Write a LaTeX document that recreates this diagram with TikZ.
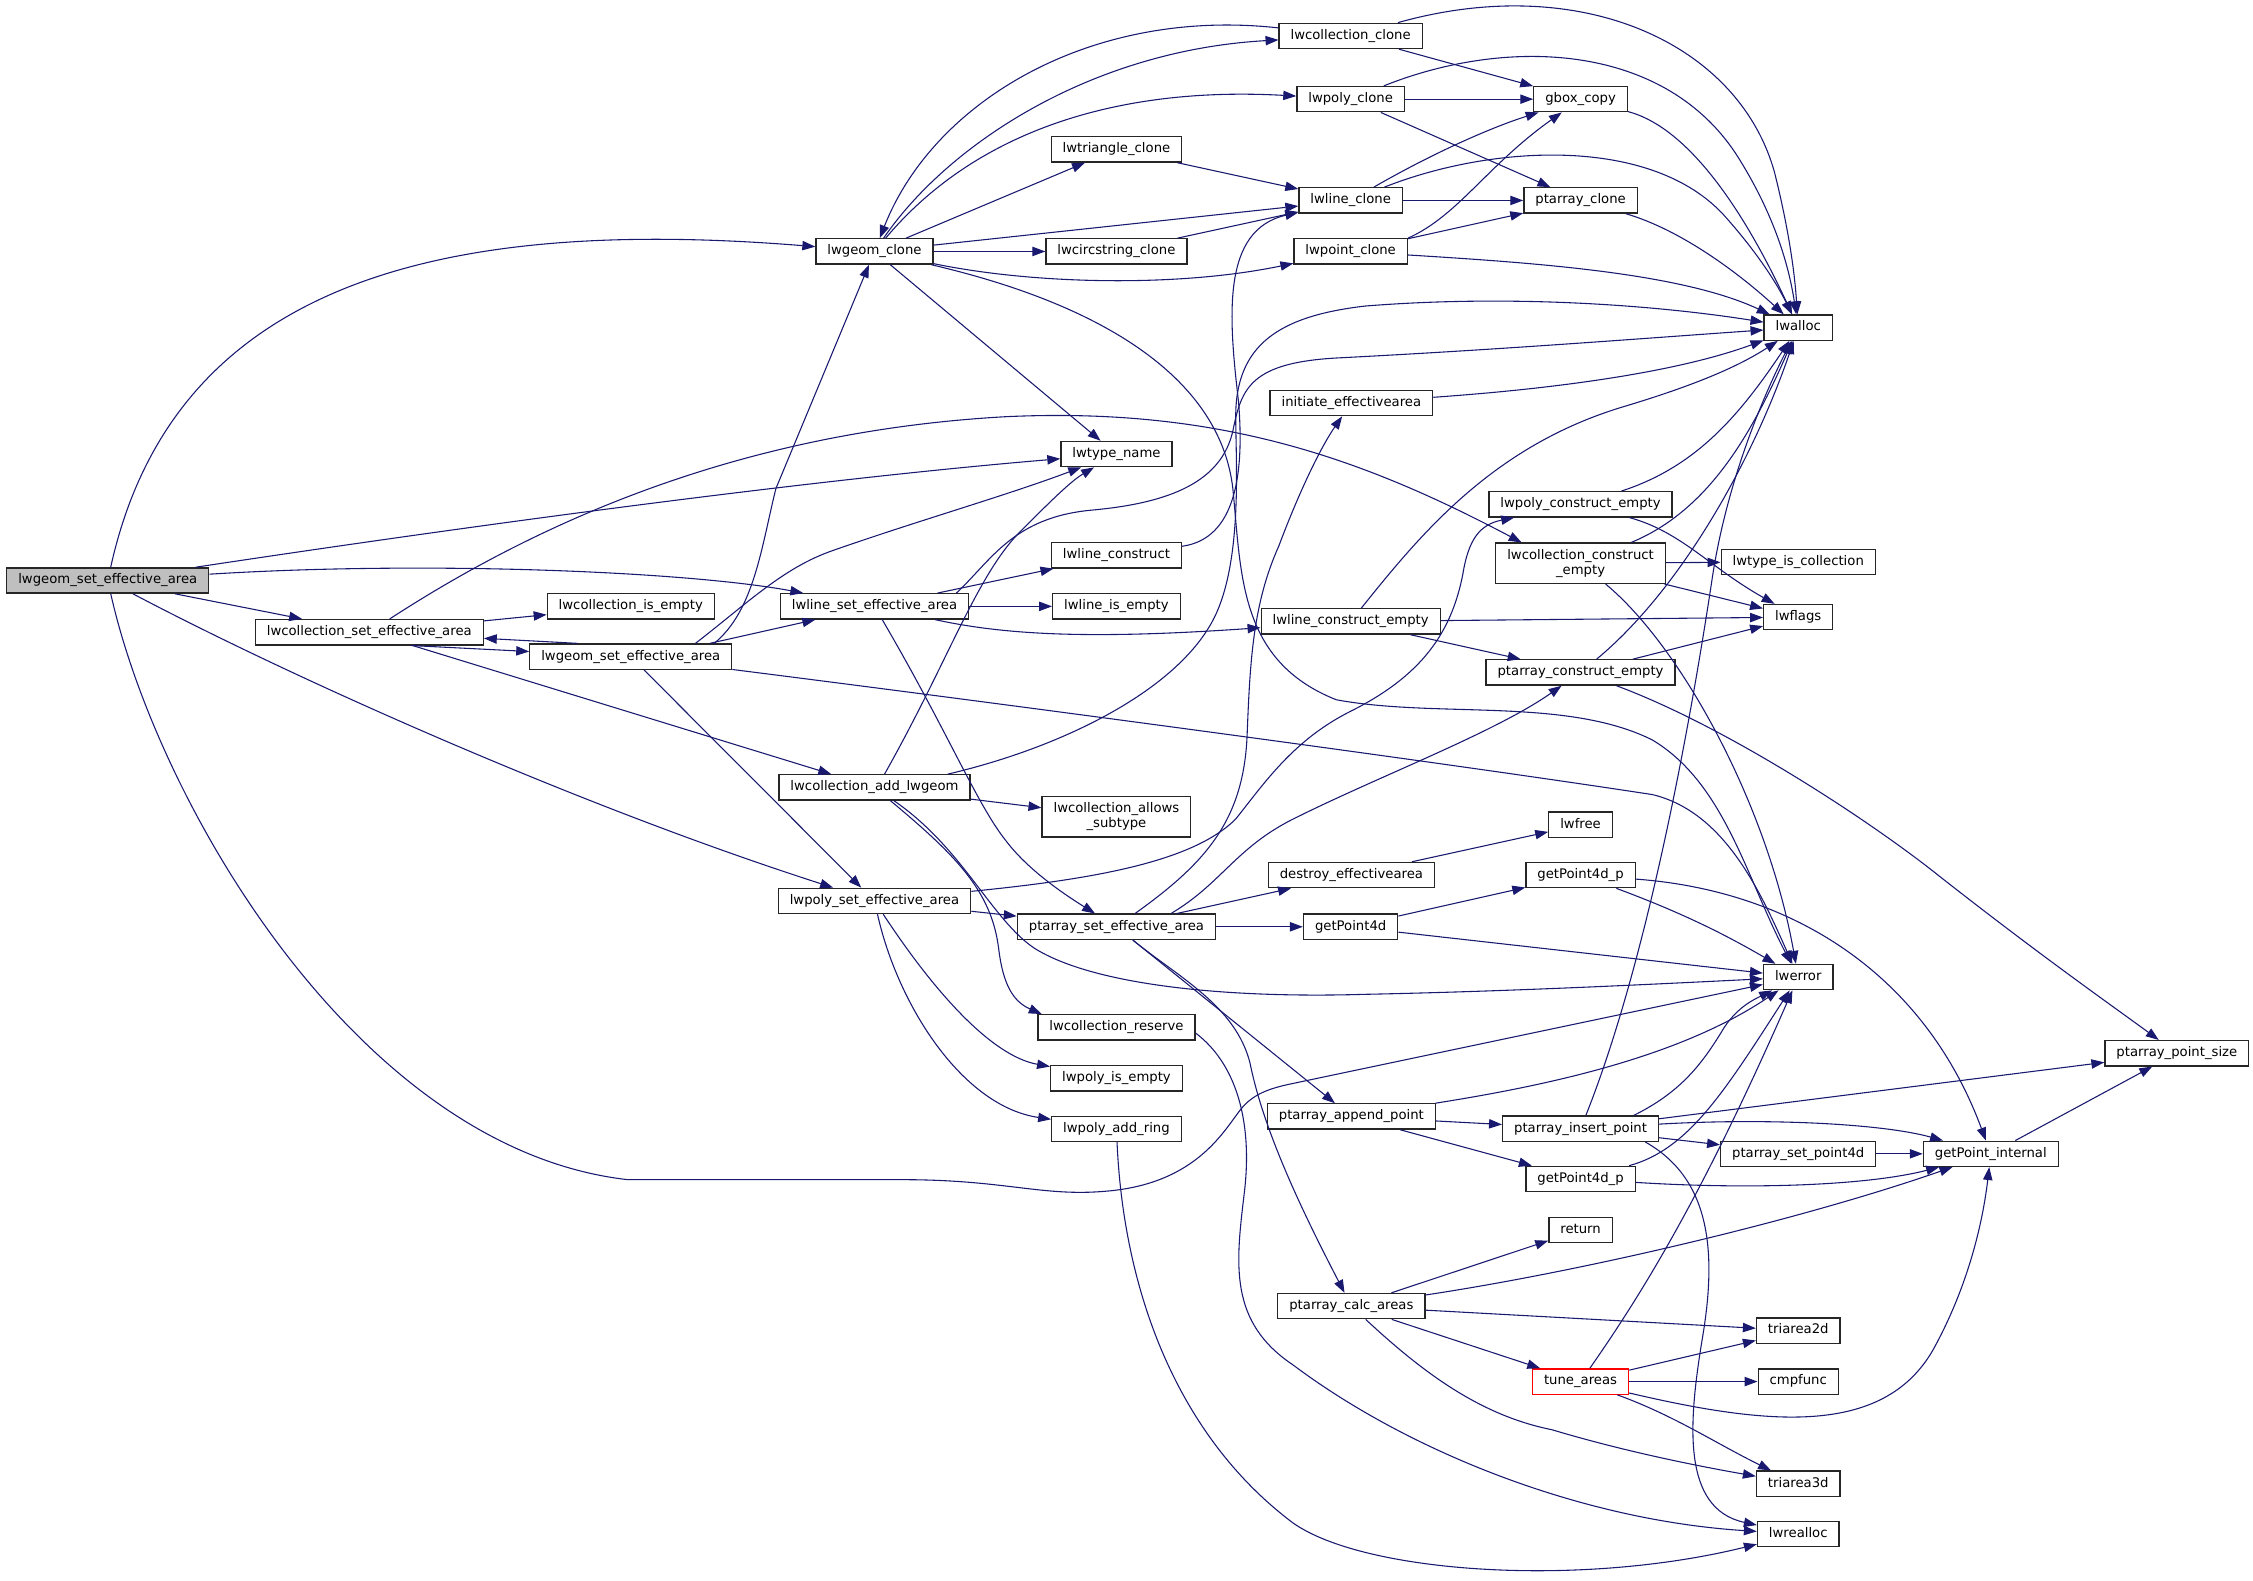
\documentclass[tikz,border=0pt]{standalone}
\usepackage{fontspec}
\setmainfont{DejaVu Sans}
\usetikzlibrary{arrows.meta}
\definecolor{callblue}{HTML}{191970}
\definecolor{rootgray}{HTML}{BFBFBF}
\begin{document}
\begin{tikzpicture}[x=1pt,y=-1pt,
		fnbase/.style={draw=black!85,line width=0.9pt,fill=white,inner xsep=8pt,inner ysep=3pt,font=\fontsize{9.2}{10.5}\selectfont},
		fn/.style={fnbase,text height=6.9pt,text depth=2.2pt,minimum height=17.6pt},
		fntwo/.style={fnbase,align=center,minimum height=28pt},
		rootfn/.style={fill=rootgray},
		call/.style={draw=callblue,line width=0.75pt,-{Triangle[length=9pt,width=6.5pt]}}]
			\useasboundingbox (0,0) rectangle (1568,1100);

			\node[fn,rootfn] (geomsea) at (75,404) {lwgeom\_set\_effective\_area};
			\node[fn] (collsea) at (257,440) {lwcollection\_set\_effective\_area};
			\node[fn] (collisempty) at (439,422) {lwcollection\_is\_empty};
			\node[fn] (geomseab) at (439,457) {lwgeom\_set\_effective\_area};
			\node[fn] (lwgeomclone) at (608.6,175) {lwgeom\_clone};
			\node[fn] (linesea) at (608.6,422) {lwline\_set\_effective\_area};
			\node[fn] (colladd) at (608.6,548) {lwcollection\_add\_lwgeom};
			\node[fn] (polysea) at (608.6,627) {lwpoly\_set\_effective\_area};
			\node[fn] (triclone) at (777,104) {lwtriangle\_clone};
			\node[fn] (circclone) at (777,175) {lwcircstring\_clone};
			\node[fn] (typename) at (777,316) {lwtype\_name};
			\node[fn] (lineconstruct) at (777,386.5) {lwline\_construct};
			\node[fn] (lineisempty) at (777,422) {lwline\_is\_empty};
			\node[fntwo] (collallows) at (777,568.5) {lwcollection\_allows\\\_subtype};
			\node[fn] (ptasea) at (777,645) {ptarray\_set\_effective\_area};
			\node[fn] (collreserve) at (777,715) {lwcollection\_reserve};
			\node[fn] (polyisempty) at (777,750.5) {lwpoly\_is\_empty};
			\node[fn] (polyaddring) at (777,785.6) {lwpoly\_add\_ring};
			\node[fn] (collclone) at (940,25) {lwcollection\_clone};
			\node[fn] (polyclone) at (940,69) {lwpoly\_clone};
			\node[fn] (lineclone) at (940,139.5) {lwline\_clone};
			\node[fn] (pointclone) at (940,175) {lwpoint\_clone};
			\node[fn] (initea) at (940.5,280.5) {initiate\_effectivearea};
			\node[fn] (linece) at (940,432.5) {lwline\_construct\_empty};
			\node[fn] (destroyea) at (940.5,609) {destroy\_effectivearea};
			\node[fn] (getp4d) at (940,645) {getPoint4d};
			\node[fn] (ptaappend) at (940.5,777) {ptarray\_append\_point};
			\node[fn] (ptacalc) at (940.5,909) {ptarray\_calc\_areas};
			\node[fn] (gboxcopy) at (1100,69) {gbox\_copy};
			\node[fn] (ptaclone) at (1100,139.5) {ptarray\_clone};
			\node[fn] (polyce) at (1100,351) {lwpoly\_construct\_empty};
			\node[fntwo] (collce) at (1100,392) {lwcollection\_construct\\\_empty};
			\node[fn] (ptace) at (1100,468) {ptarray\_construct\_empty};
			\node[fn] (lwfree) at (1100,574) {lwfree};
			\node[fn] (gp4dpa) at (1100,609) {getPoint4d\_p};
			\node[fn] (ptainsert) at (1100,785.5) {ptarray\_insert\_point};
			\node[fn] (gp4dpb) at (1100,820.5) {getPoint4d\_p};
			\node[fn] (retn) at (1100,856) {return};
			\node[fn,draw=red] (tuneareas) at (1100,961.5) {tune\_areas};
			\node[fn] (lwalloc) at (1251.5,228) {lwalloc};
			\node[fn] (typeiscoll) at (1251.5,391) {lwtype\_is\_collection};
			\node[fn] (lwflags) at (1251.5,429.5) {lwflags};
			\node[fn] (lwerror) at (1251.5,680) {lwerror};
			\node[fn] (ptasetp4d) at (1251.5,803) {ptarray\_set\_point4d};
			\node[fn] (triarea2d) at (1251.5,926) {triarea2d};
			\node[fn] (cmpfunc) at (1251.5,961.5) {cmpfunc};
			\node[fn] (triarea3d) at (1251.5,1032.6) {triarea3d};
			\node[fn] (lwrealloc) at (1251.5,1067.6) {lwrealloc};
			\node[fn] (getpint) at (1385.5,803) {getPoint\_internal};
			\node[fn] (ptapointsize) at (1515,733) {ptarray\_point\_size};

			% lwgeom_set_effective_area
			\path[call] (geomsea) .. controls (120,200) and (300,150) .. (lwgeomclone);
			\path[call] (geomsea) .. controls (300,370) and (550,335) .. (typename);
			\path[call] (geomsea) .. controls (300,390) and (480,398) .. (linesea);
			\path[call] (geomsea) -- (collsea);
			\path[call] (geomsea) .. controls (200,470) and (400,560) .. (polysea);
			\path[call] (geomsea) .. controls (110,560) and (250,800) .. (437,821) -- (628,821) .. controls (700,821) and (725,833) .. (770,829) .. controls (830,824) and (850,790) .. (862,774) .. controls (870,763) and (880,758) .. (900,754) -- (lwerror);

			% lwgeom_clone
			\path[call] (lwgeomclone) .. controls (660,100) and (760,35) .. (collclone);
			\path[call] (collclone) .. controls (760,5) and (650,70) .. (lwgeomclone);
			\path[call] (lwgeomclone) .. controls (680,90) and (780,60) .. (polyclone);
			\path[call] (lwgeomclone) -- (triclone);
			\path[call] (lwgeomclone) -- (lineclone);
			\path[call] (lwgeomclone) -- (circclone);
			\path[call] (lwgeomclone) .. controls (720,198) and (820,200) .. (pointclone);
			\path[call] (lwgeomclone) -- (typename);
			\path[call] (lwgeomclone) .. controls (780,215) and (850,270) .. (858,340) .. controls (864,400) and (862,460) .. (930,487) .. controls (1000,500) and (1090,485) .. (1150,515) .. controls (1200,545) and (1215,610) .. (lwerror);

			% the clones
			\path[call] (collclone) -- (gboxcopy);
			\path[call] (collclone) .. controls (1100,-20) and (1210,30) .. (1235,120) .. controls (1245,160) and (1249,190) .. (lwalloc);
			\path[call] (polyclone) -- (gboxcopy);
			\path[call] (polyclone) -- (ptaclone);
			\path[call] (polyclone) .. controls (1050,25) and (1160,30) .. (1210,110) .. controls (1235,150) and (1245,185) .. (lwalloc);
			\path[call] (triclone) -- (lineclone);
			\path[call] (circclone) -- (lineclone);
			\path[call] (lineclone) .. controls (1000,105) and (1040,88) .. (gboxcopy);
			\path[call] (lineclone) -- (ptaclone);
			\path[call] (lineclone) .. controls (1040,100) and (1150,95) .. (1200,150) .. controls (1225,178) and (1238,200) .. (lwalloc);
			\path[call] (pointclone.north east) .. controls (1015,150) and (1035,115) .. (gboxcopy);
			\path[call] (pointclone) -- (ptaclone);
			\path[call] (pointclone) .. controls (1070,183) and (1170,190) .. (lwalloc);
			\path[call] (gboxcopy) .. controls (1180,90) and (1220,160) .. (lwalloc);
			\path[call] (ptaclone) .. controls (1170,160) and (1210,190) .. (lwalloc);
			\path[call] (initea) .. controls (1090,270) and (1170,258) .. (lwalloc);

			% constructors
			\path[call] (polyce) .. controls (1180,325) and (1210,290) .. (lwalloc);
			\path[call] (polyce) .. controls (1170,370) and (1190,395) .. (lwflags);
			\path[call] (collce) -- (typeiscoll);
			\path[call] (collce) -- (lwflags);
			\path[call] (collce) .. controls (1190,355) and (1220,300) .. (lwalloc);
			\path[call] (collce) .. controls (1170,450) and (1230,560) .. (lwerror);
			\path[call] (lineconstruct) .. controls (860,375) and (866,330) .. (862,280) .. controls (855,220) and (850,160) .. (lineclone);
			\path[call] (linece) .. controls (990,370) and (1040,310) .. (1130,283) .. controls (1180,268) and (1210,255) .. (lwalloc);
			\path[call] (linece) -- (lwflags);
			\path[call] (linece) -- (ptace);
			\path[call] (ptace) .. controls (1170,410) and (1220,320) .. (lwalloc);
			\path[call] (ptace) -- (lwflags);
			\path[call] (ptace) .. controls (1200,505) and (1300,570) .. (1350,610) .. controls (1420,665) and (1470,700) .. (ptapointsize);

			% lwline_set_effective_area
			\path[call] (linesea) -- (lineconstruct);
			\path[call] (linesea) -- (lineisempty);
			\path[call] (linesea) .. controls (700,442) and (760,445) .. (linece);
			\path[call] (linesea) .. controls (660,510) and (680,560) .. (700,585) .. controls (715,605) and (740,622) .. (ptasea);
			\path[call] ([xshift=57pt]linesea.north) .. controls (690,390) and (705,360) .. (760,355) .. controls (815,350) and (850,335) .. (858,300) .. controls (864,270) and (870,252) .. (933,249) .. controls (1050,243) and (1150,235) .. (lwalloc);

			% lwcollection_set_effective_area
			\path[call] (collsea) -- (collisempty);
			\path[call] ([xshift=29pt]collsea.south) -- (geomseab);
			\path[call] (collsea) -- (colladd);
			\path[call] (collsea) .. controls (380,360) and (520,300) .. (700,290) .. controls (850,283) and (950,320) .. ([xshift=-41pt]collce.north);

			% lwgeom_set_effective_area (second)
			\path[call] ([xshift=-37pt]geomseab.north) -- (collsea);
			\path[call] ([xshift=55pt]geomseab.north) -- (linesea);
			\path[call] ([xshift=58pt]geomseab.north) .. controls (525,425) and (530,380) .. (540,340) -- (lwgeomclone);
			\path[call] ([xshift=45pt]geomseab.north) .. controls (520,420) and (545,395) .. (580,383) .. controls (640,362) and (700,345) .. (typename);
			\path[call] (geomseab) -- (polysea);
			\path[call] (geomseab) .. controls (700,490) and (1000,530) .. (1150,553) .. controls (1200,565) and (1225,620) .. (lwerror);

			% lwcollection_add_lwgeom
			\path[call] (colladd) -- (collallows);
			\path[call] ([xshift=7pt]colladd.north) .. controls (660,460) and (680,400) .. (710,370) .. controls (730,350) and (745,335) .. (typename);
			\path[call] ([xshift=51pt]colladd.north) .. controls (740,520) and (820,480) .. (845,430) .. controls (865,390) and (860,320) .. (860,290) .. controls (860,240) and (890,220) .. (950,213) .. controls (1050,205) and (1150,212) .. (lwalloc);
			\path[call] (colladd) .. controls (670,590) and (690,640) .. (720,660) .. controls (760,685) and (850,695) .. (950,692) .. controls (1050,690) and (1150,685) .. (lwerror);
			\path[call] (colladd) .. controls (665,595) and (690,620) .. (695,660) .. controls (698,685) and (705,697) .. ([xshift=-52pt]collreserve.north);

			% lwpoly_set_effective_area
			\path[call] (polysea) -- (ptasea);
			\path[call] (polysea) .. controls (760,612) and (830,600) .. (860,570) .. controls (880,545) and (900,515) .. (940,495) .. controls (990,470) and (1010,440) .. (1018,400) .. controls (1022,375) and (1030,365) .. (polyce);
			\path[call] (polysea) .. controls (650,690) and (690,735) .. (polyisempty);
			\path[call] (polysea) .. controls (625,700) and (670,770) .. (polyaddring);

			% ptarray_set_effective_area
			\path[call] (ptasea) .. controls (840,600) and (866,570) .. (868,510) .. controls (870,460) and (872,420) .. (890,380) .. controls (905,340) and (920,310) .. (initea);
			\path[call] ([xshift=38pt]ptasea.north) .. controls (850,615) and (860,590) .. (900,570) .. controls (960,540) and (1040,510) .. (ptace);
			\path[call] (ptasea) -- (destroyea);
			\path[call] (ptasea) -- (getp4d);
			\path[call] (ptasea) -- (ptaappend);
			\path[call] (ptasea) .. controls (820,680) and (860,700) .. (870,740) .. controls (880,790) and (910,850) .. (ptacalc);

			\path[call] (destroyea) -- (lwfree);
			\path[call] (getp4d) -- (gp4dpa);
			\path[call] (getp4d) -- (lwerror);
			\path[call] (gp4dpa) .. controls (1170,635) and (1200,650) .. (lwerror);
			\path[call] (gp4dpa) .. controls (1250,620) and (1340,680) .. (getpint);
			\path[call] ([yshift=-4pt]collreserve.east) .. controls (860,740) and (872,780) .. (866,830) .. controls (860,880) and (855,920) .. (900,950) .. controls (980,1010) and (1100,1058) .. (lwrealloc);
			\path[call] (polyaddring) .. controls (782,900) and (820,1000) .. (900,1060) .. controls (950,1095) and (1100,1105) .. (lwrealloc);

			% ptarray_append_point, ptarray_insert_point
			\path[call] (ptaappend) .. controls (1080,755) and (1170,735) .. (lwerror);
			\path[call] (ptaappend) -- (ptainsert);
			\path[call] (ptaappend) -- (gp4dpb);
			\path[call] (ptainsert) .. controls (1150,660) and (1180,480) .. (1192,400) .. controls (1203,330) and (1230,270) .. (lwalloc);
			\path[call] ([xshift=37pt]ptainsert.north) .. controls (1170,760) and (1185,740) .. (1200,715) .. controls (1210,700) and (1222,695) .. (lwerror);
			\path[call] (ptainsert) -- (ptapointsize);
			\path[call] (ptainsert) .. controls (1230,778) and (1310,782) .. (getpint);
			\path[call] (ptainsert) -- (ptasetp4d);
			\path[call] ([xshift=45pt]ptainsert.south) .. controls (1190,820) and (1195,870) .. (1185,930) .. controls (1175,990) and (1170,1050) .. (lwrealloc);
			\path[call] (ptasetp4d) -- (getpint);
			\path[call] (gp4dpb) .. controls (1175,800) and (1200,760) .. (lwerror);
			\path[call] (gp4dpb) .. controls (1220,828) and (1300,825) .. (getpint);
			\path[call] (getpint) -- (ptapointsize);

			% ptarray_calc_areas, tune_areas
			\path[call] (ptacalc) -- (retn);
			\path[call] (ptacalc) .. controls (1100,885) and (1250,850) .. (getpint);
			\path[call] (ptacalc) -- (triarea2d);
			\path[call] (ptacalc) -- (tuneareas);
			\path[call] (ptacalc) .. controls (990,955) and (1030,985) .. (1080,995) .. controls (1130,1010) and (1180,1020) .. (triarea3d);
			\path[call] (tuneareas) .. controls (1150,890) and (1190,820) .. (lwerror);
			\path[call] (tuneareas) -- (triarea2d);
			\path[call] (tuneareas) -- (cmpfunc);
			\path[call] (tuneareas) .. controls (1230,992) and (1310,1000) .. (1345,940) .. controls (1370,895) and (1380,850) .. (getpint);
			\path[call] (tuneareas) .. controls (1165,985) and (1195,1005) .. (triarea3d);
		\end{tikzpicture}
\end{document}
